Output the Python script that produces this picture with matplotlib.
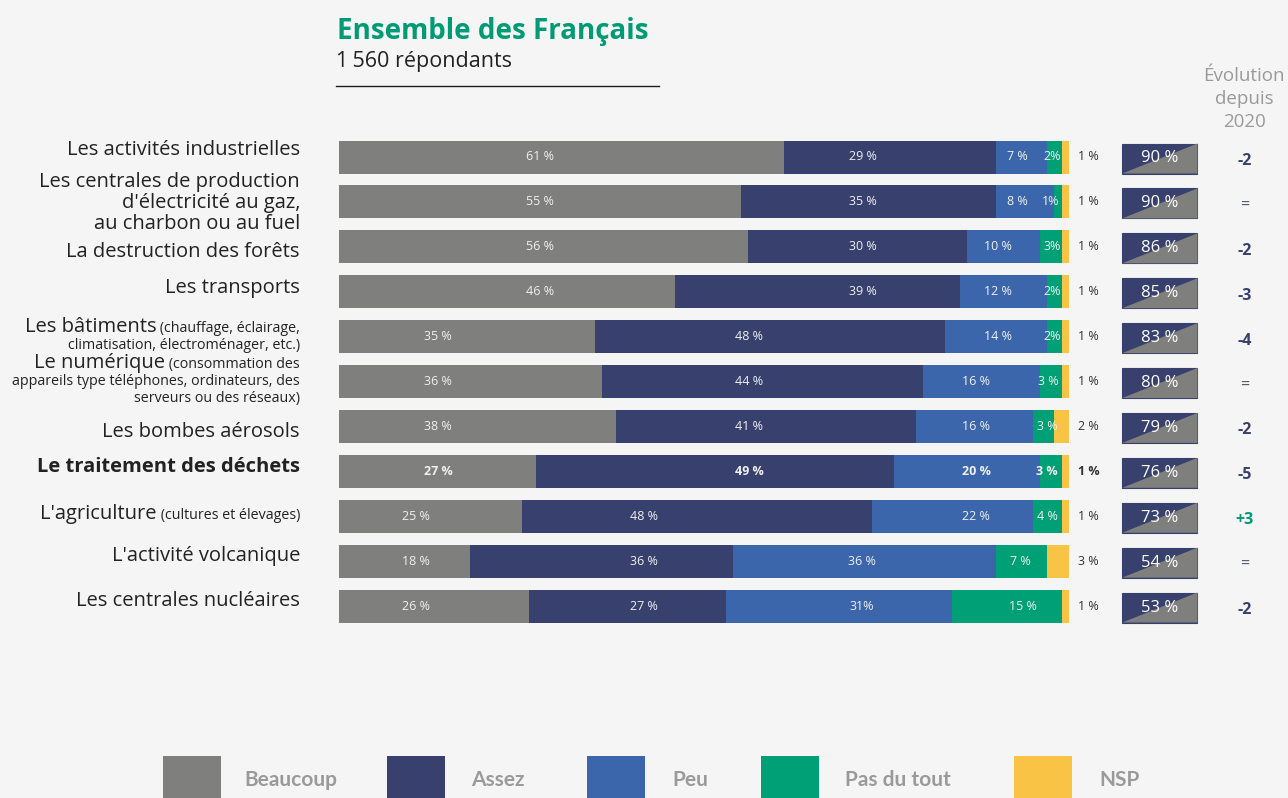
import numpy as np
import matplotlib
matplotlib.use("Agg")
import matplotlib.pyplot as plt
from matplotlib.patches import Rectangle, Polygon

plt.rcParams['font.family'] = ['Open Sans', 'DejaVu Sans']

# === data ===
categories = [
    "Les activités industrielles",
    "Les centrales de production\nd'électricité au gaz,\nau charbon ou au fuel",
    "La destruction des forêts",
    "Les transports",
    "Les bâtiments",
    "Le numérique",
    "Les bombes aérosols",
    "Le traitement des déchets",
    "L'agriculture",
    "L'activité volcanique",
    "Les centrales nucléaires",
]
subtexts = [
    None, None, None, None,
    "(chauffage, éclairage,\nclimatisation, électroménager, etc.)",
    "(consommation des\nappareils type téléphones, ordinateurs, des\nserveurs ou des réseaux)",
    None, None,
    "(cultures et élevages)",
    None, None,
]
beaucoup = [61, 55, 56, 46, 35, 36, 38, 27, 25, 18, 26]
assez = [29, 35, 30, 39, 48, 44, 41, 49, 48, 36, 27]
peu = [7, 8, 10, 12, 14, 16, 16, 20, 22, 36, 31]
pas_du_tout = [2, 1, 3, 2, 2, 3, 3, 3, 4, 7, 15]
nsp = [1, 1, 1, 1, 1, 1, 2, 1, 1, 3, 1]
evolution = ["-2", "=", "-2", "-3", "-4", "=", "-2", "-5", "+3", "=", "-2"]
highlight = 7  # "Le traitement des déchets"

series_names = ["Beaucoup", "Assez", "Peu", "Pas du tout", "NSP"]
colors = ["#7f7f7d", "#38416e", "#3b66ac", "#00a077", "#f9c446"]

# layout: label nudges (px) to follow the original placement
label_dy = [-7, 1, 5, -4, 0, 0, 6, -4, 0, -5, -5]
# segment label centres in the original sit on a few fixed columns (px)
seg_label_px = [
    [540, 863, 1017, 1052],
    [540, 863, 1017, 1051],
    [540, 863, 998, 1052],
    [540, 863, 998, 1052],
    [438, 749, 998, 1052],
    [438, 749, 976, 1048],
    [438, 749, 976, 1047],
    [438, 749, 976, 1047],
    [416, 644, 976, 1047],
    [416, 644, 862, 1020],
    [416, 644, 862, 1023],
]

BG = "#f5f5f5"
NAVY = "#38416e"
GREEN_T = "#009b74"
TXT = "#222222"

fig = plt.figure(figsize=(12.88, 7.98), dpi=100, facecolor=BG)
W, H = 1288, 798
px_unit = 7.3
row_px = 44.9
ax_left = 339
ax_top, ax_bot = 134.55, 628.45
ax = fig.add_axes([ax_left / W, 1 - ax_bot / H, (W - ax_left) / W, (ax_bot - ax_top) / H])
ax.set_facecolor(BG)
ax.set_xlim(0, (W - ax_left) / px_unit)
ax.set_ylim(len(categories) - 0.5, -0.5)
ax.axis("off")

n = len(categories)
y = np.arange(n)
data = [beaucoup, assez, peu, pas_du_tout, nsp]
left = np.zeros(n)
bar_h = 33 / row_px
for k, vals in enumerate(data):
    vals = np.array(vals, dtype=float)
    ax.barh(y, vals, left=left, height=bar_h, color=colors[k], linewidth=0)
    for i in range(n):
        w = "bold" if i == highlight else "normal"
        if k < 4:
            compact = (k == 3 and i < 5) or (k == 2 and i == 10)
            lab = f"{int(vals[i])}%" if compact else f"{int(vals[i])} %"
            lx_seg = (seg_label_px[i][k] - ax_left) / px_unit
            ax.text(lx_seg, y[i], lab, ha="center", va="center",
                    color="#f0f0f0", fontsize=9, fontweight=w)
        else:
            ax.text(101.2, y[i], f"{int(vals[i])} %", ha="left", va="center",
                    color="#333333", fontsize=9, fontweight=w)
    left += vals

# total boxes (Beaucoup + Assez)
totals = np.array(beaucoup) + np.array(assez)
bx0, bw = 107.3, 10.3
bh = 30 / row_px
for i in range(n):
    yc = y[i] + 1.5 / row_px
    ax.add_patch(Rectangle((bx0, yc - bh / 2), bw, bh, facecolor=NAVY, edgecolor=NAVY, lw=0.8))
    ax.add_patch(Polygon([(bx0, yc + bh / 2), (bx0 + bw, yc - bh / 2), (bx0 + bw, yc + bh / 2)],
                         closed=True, facecolor=colors[0], edgecolor="none"))
    ax.text(bx0 + bw / 2, yc, f"{totals[i]} %", ha="center", va="center",
            color="white", fontsize=12)

# evolution column
for i, ev in enumerate(evolution):
    if ev == "=":
        c, fw = "#555a70", "normal"
    elif ev.startswith("+"):
        c, fw = GREEN_T, "bold"
    else:
        c, fw = NAVY, "bold"
    ax.text(124.0, y[i] + 4 / row_px, ev, ha="center", va="center", color=c,
            fontsize=11.5, fontweight=fw)

for j, word in enumerate(["Évolution", "depuis", "2020"]):
    ax.text(124.0, -0.5 - (134.5 - (76 + 23 * j)) / row_px, word, ha="center",
            va="center", color="#9a9a9a", fontsize=13.5)

# category labels
renderer = fig.canvas.get_renderer()
lx = (300 - ax_left) / px_unit
BIG, SMALL = 14.5, 10.3
for i, cat in enumerate(categories):
    fw = "bold" if i == highlight else "normal"
    sub = subtexts[i]
    yc = y[i] + label_dy[i] / row_px
    if sub is None:
        parts = cat.split("\n")
        for j, line in enumerate(parts):
            off = (j - (len(parts) - 1) / 2) * 21 / row_px
            ax.text(lx, yc + off, line, ha="right", va="center", fontsize=BIG,
                    color=TXT, fontweight=fw)
    else:
        lines = sub.split("\n")
        nl = len(lines)
        # first line: big text + small text on one baseline
        if nl == 1:
            base = yc + 3 / row_px
        elif nl == 2:
            base = yc - 5 / row_px
        else:
            base = yc - 14 / row_px
        t = ax.text(lx, base, " " + lines[0], ha="right", va="baseline", fontsize=SMALL,
                    color=TXT)
        bb = t.get_window_extent(renderer=renderer)
        x_small = ax.transData.inverted().transform((bb.x0, bb.y0))[0]
        ax.text(x_small, base, cat, ha="right", va="baseline", fontsize=BIG,
                color=TXT, fontweight=fw)
        for j, line in enumerate(lines[1:]):
            ax.text(lx, base + (j + 1) * 17 / row_px, line, ha="right", va="baseline",
                    fontsize=SMALL, color=TXT)

# title block
fig.text(337 / W, 1 - 32 / H, "Ensemble des Français", ha="left", va="center",
         fontsize=20, fontweight="bold", color=GREEN_T)
fig.text(336 / W, 1 - 62 / H, "1\u202f560 répondants", ha="left", va="center",
         fontsize=15.5, color=TXT)
fig.add_artist(plt.Line2D([336 / W, 659 / W], [1 - 86 / H, 1 - 86 / H],
                          color="#1e1e1e", lw=1))

# legend
sq_x = [163, 387, 587, 761, 1014]
tx_x = [244, 471, 672, 845, 1099]
for k, name in enumerate(series_names):
    fig.add_artist(Rectangle((sq_x[k] / W, 0), 58 / W, 42 / H, facecolor=colors[k],
                             edgecolor="none", transform=fig.transFigure))
    fig.text(tx_x[k] / W, 1 - 780 / H, name, ha="left", va="center", fontsize=15,
             fontweight="bold", color="#9a9a9a", family=["Lato", "DejaVu Sans"])

fig.savefig("out.png", dpi=100, facecolor=BG)
